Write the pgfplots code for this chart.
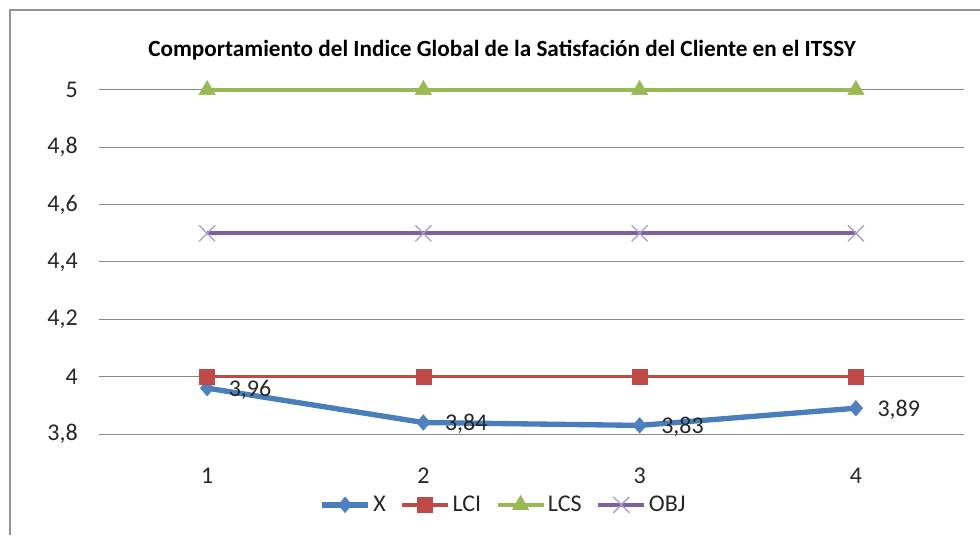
\documentclass[border=0pt]{standalone}
\usepackage{pgfplots}
\pgfplotsset{compat=1.18}
\usepackage{fontspec}
\setmainfont{Carlito}
\definecolor{cX}{HTML}{4A7EBB}
\definecolor{cXm}{HTML}{4F81BD}
\definecolor{cLCI}{HTML}{BE4B48}
\definecolor{cLCS}{HTML}{98B954}
\definecolor{cOBJ}{HTML}{7D60A0}
\definecolor{cOBJm}{HTML}{A99BC8}
\definecolor{gridc}{HTML}{878787}
\begin{document}
\begin{tikzpicture}
\useasboundingbox (0,0) rectangle (735pt,401.25pt);
\draw[color=gray!85, line width=1.1pt] (7.5pt,0) -- (7.5pt,393.75pt) -- (736pt,393.75pt);
\node[anchor=base, inner sep=0pt, text=black] at (376.5pt,358.5pt) {\fontsize{17.4}{21}\selectfont\bfseries Comportamiento del Indice Global de la Satisfación del Cliente en el ITSSY};
\begin{axis}[
  at={(74.25pt,75.75pt)}, anchor=south west,
  scale only axis, width=648.75pt, height=258pt,
  xmin=0.5, xmax=4.5, ymin=3.8, ymax=5,
  xtick={1,2,3,4}, ytick={3.8,4,4.2,4.4,4.6,4.8,5},
  axis line style={draw=none},
  major tick length=0pt,
  ymajorgrids, major grid style={gridc, line width=0.75pt},
  clip=false,
  font=\fontsize{18}{21}\selectfont,
  /pgf/number format/assume math mode=true,
  /pgf/number format/use comma,
  yticklabel style={anchor=east, inner sep=0pt, xshift=-15.75pt, text=black!85},
  xticklabel style={anchor=north, inner sep=0pt, yshift=-25.5pt, text=black!85},
  legend columns=4,
  legend style={draw=none, fill=none, at={(axis description cs:0.468,-0.206)}, anchor=center,
    font=\fontsize{18}{21}\selectfont, nodes={inner sep=2pt, text=black!85},
    /tikz/every even column/.append style={column sep=9pt}},
  legend image code/.code={\draw[mark repeat=2,mark phase=2] plot coordinates {(0pt,0pt) (17.25pt,0pt) (34.5pt,0pt)};},
]
\addplot[cX, line width=4pt, mark=diamond*, mark size=5.8pt, mark options={fill=cXm, draw=cXm, line width=0.5pt, xscale=1.15},
  nodes near coords={\pgfmathprintnumber[fixed, fixed zerofill, precision=2, use comma, assume math mode=true]{\pgfplotspointmeta}},
  point meta=y,
  every node near coord/.append style={anchor=west, inner sep=0pt, xshift=16pt, yshift=-1pt, text=black!85, font=\fontsize{18}{21}\selectfont}]
  coordinates {(1,3.96) (2,3.84) (3,3.83) (4,3.89)};
\addlegendentry{X}
\addplot[cLCI, line width=2.5pt, mark=square*, mark size=5.6pt, mark options={fill=cLCI, draw=cLCI, line width=0.5pt}]
  coordinates {(1,4) (2,4) (3,4) (4,4)};
\addlegendentry{LCI}
\addplot[cLCS, line width=2.6pt, mark=triangle*, mark size=7pt, mark options={fill=cLCS, draw=cLCS, line width=0.5pt}]
  coordinates {(1,5) (2,5) (3,5) (4,5)};
\addlegendentry{LCS}
\addplot[cOBJ, line width=3pt, mark=x, mark size=8.5pt, mark options={draw=cOBJm, line width=1pt}]
  coordinates {(1,4.5) (2,4.5) (3,4.5) (4,4.5)};
\addlegendentry{OBJ}
\end{axis}
\end{tikzpicture}
\end{document}
